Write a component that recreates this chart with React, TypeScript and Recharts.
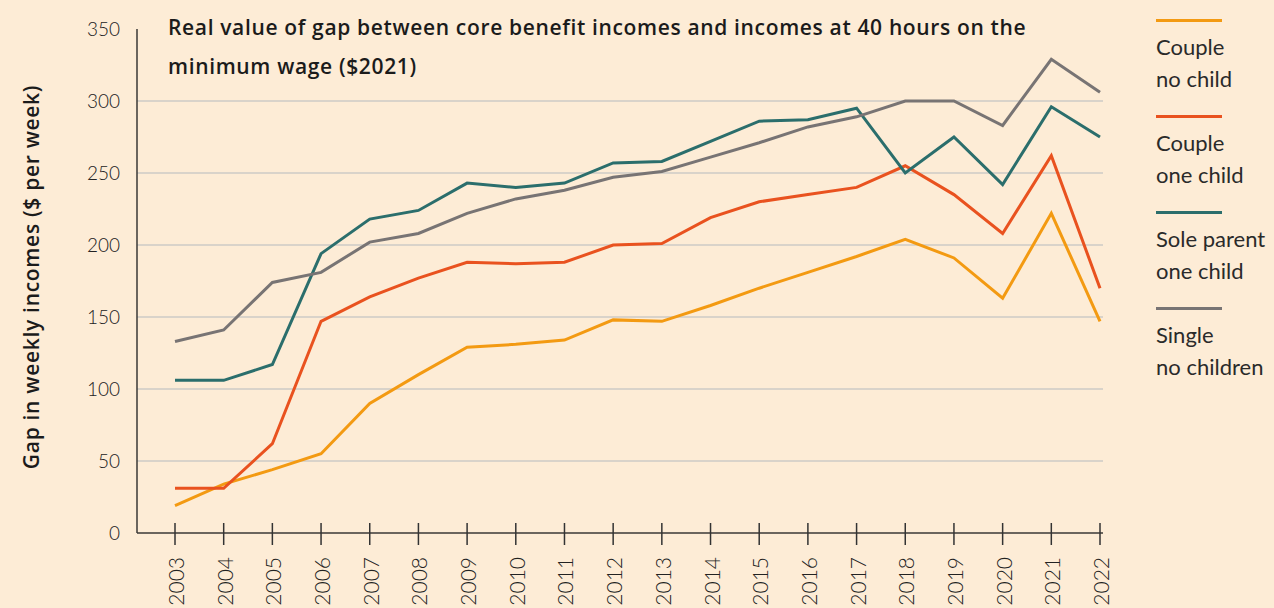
import React from "react";
import { LineChart, Line, XAxis, YAxis, ReferenceLine } from "recharts";

const years = ["2003", "2004", "2005", "2006", "2007", "2008", "2009", "2010", "2011", "2012", "2013", "2014", "2015", "2016", "2017", "2018", "2019", "2020", "2021", "2022"];

const coupleNoChild = [19, 34, 44, 55, 90, 110, 129, 131, 134, 148, 147, 158, 170, 181, 192, 204, 191, 163, 222, 147];
const coupleOneChild = [31, 31, 62, 147, 164, 177, 188, 187, 188, 200, 201, 219, 230, 235, 240, 255, 235, 208, 262, 170];
const soleParentOneChild = [106, 106, 117, 194, 218, 224, 243, 240, 243, 257, 258, 272, 286, 287, 295, 250, 275, 242, 296, 275];
const singleNoChildren = [133, 141, 174, 181, 202, 208, 222, 232, 238, 247, 251, 261, 271, 282, 289, 300, 300, 283, 329, 306];

const yTicks = [0, 50, 100, 150, 200, 250, 300, 350];
const gridValues = [50, 100, 150, 200, 250, 300];

const series = [
  { key: "coupleNoChild", label: ["Couple", "no child"], color: "#f39a12", values: coupleNoChild },
  { key: "coupleOneChild", label: ["Couple", "one child"], color: "#e9521f", values: coupleOneChild },
  { key: "soleParentOneChild", label: ["Sole parent", "one child"], color: "#2b6e6c", values: soleParentOneChild },
  { key: "singleNoChildren", label: ["Single", "no children"], color: "#787474", values: singleNoChildren },
];

const data = years.map((year, i) => {
  const row: Record<string, string | number> = { year };
  series.forEach((s) => (row[s.key] = s.values[i]));
  return row;
});

const BG = "#fdecd6";
const INK = "#222";
const FONT = "Lato, 'Noto Sans', sans-serif";
const HEAD_FONT = "'Open Sans', Lato, sans-serif";

function YearTick(props: any) {
  const { x, y, payload } = props;
  return (
    <g>
      <line x1={x} x2={x} y1={y - 10} y2={y + 12} stroke="#333" strokeWidth={1.5} />
      <text
        transform={`translate(${x + 9}, ${y + 24}) rotate(-90)`}
        textAnchor="end"
        fontSize={21}
        fontWeight={300}
        fill={INK}
        fontFamily={FONT}
      >
        {payload.value}
      </text>
    </g>
  );
}

export default function App() {
  return (
    <div style={{ position: "absolute", left: 0, top: 0, width: 1274, height: 608, background: BG, fontFamily: FONT, overflow: "hidden" }}>
      <LineChart width={1274} height={608} data={data} margin={{ top: 29, right: 171, bottom: 0, left: 0 }}>
        {gridValues.map((v) => (
          <ReferenceLine key={v} y={v} stroke="#cdcbc6" strokeWidth={1.5} />
        ))}
        <XAxis
          dataKey="year"
          height={75}
          interval={0}
          padding={{ left: 38, right: 3 }}
          tickSize={0}
          tickMargin={0}
          tickLine={false}
          axisLine={{ stroke: "#3a3836", strokeWidth: 1.5 }}
          tick={<YearTick />}
        />
        <YAxis
          width={137}
          domain={[0, 350]}
          ticks={yTicks}
          interval={0}
          tickLine={false}
          tickSize={0}
          tickMargin={17}
          axisLine={{ stroke: "#3a3836", strokeWidth: 1.5 }}
          tick={{ fontSize: 19, fontWeight: 300, fill: INK, fontFamily: FONT }}
        />
        {series.map((s) => (
          <Line key={s.key} type="linear" dataKey={s.key} stroke={s.color} strokeWidth={3} dot={false} isAnimationActive={false} />
        ))}
      </LineChart>

      <div style={{ position: "absolute", left: 168, top: 8, fontFamily: HEAD_FONT, fontSize: 21, fontWeight: 600, letterSpacing: 0.65, lineHeight: "39px", color: "#1b1b1b", whiteSpace: "nowrap" }}>
        <div>Real value of gap between core benefit incomes and incomes at 40 hours on the</div>
        <div>minimum wage ($2021)</div>
      </div>

      <div
        style={{
          position: "absolute",
          left: 31,
          top: 277,
          transform: "translate(-50%, -50%) rotate(-90deg)",
          whiteSpace: "nowrap",
          fontFamily: HEAD_FONT,
          fontSize: 21,
          fontWeight: 600,
          letterSpacing: 0.7,
          color: "#1b1b1b",
        }}
      >
        Gap in weekly incomes ($ per week)
      </div>

      {series.map((s, i) => (
        <div key={s.key} style={{ position: "absolute", left: 1156, top: 18.5 + i * 96 }}>
          <div style={{ width: 66, height: 3, background: s.color }} />
          <div style={{ marginTop: 9, fontSize: 22, lineHeight: "32px", color: "#2a2a2a", fontWeight: 400 }}>
            <div>{s.label[0]}</div>
            <div>{s.label[1]}</div>
          </div>
        </div>
      ))}
    </div>
  );
}
